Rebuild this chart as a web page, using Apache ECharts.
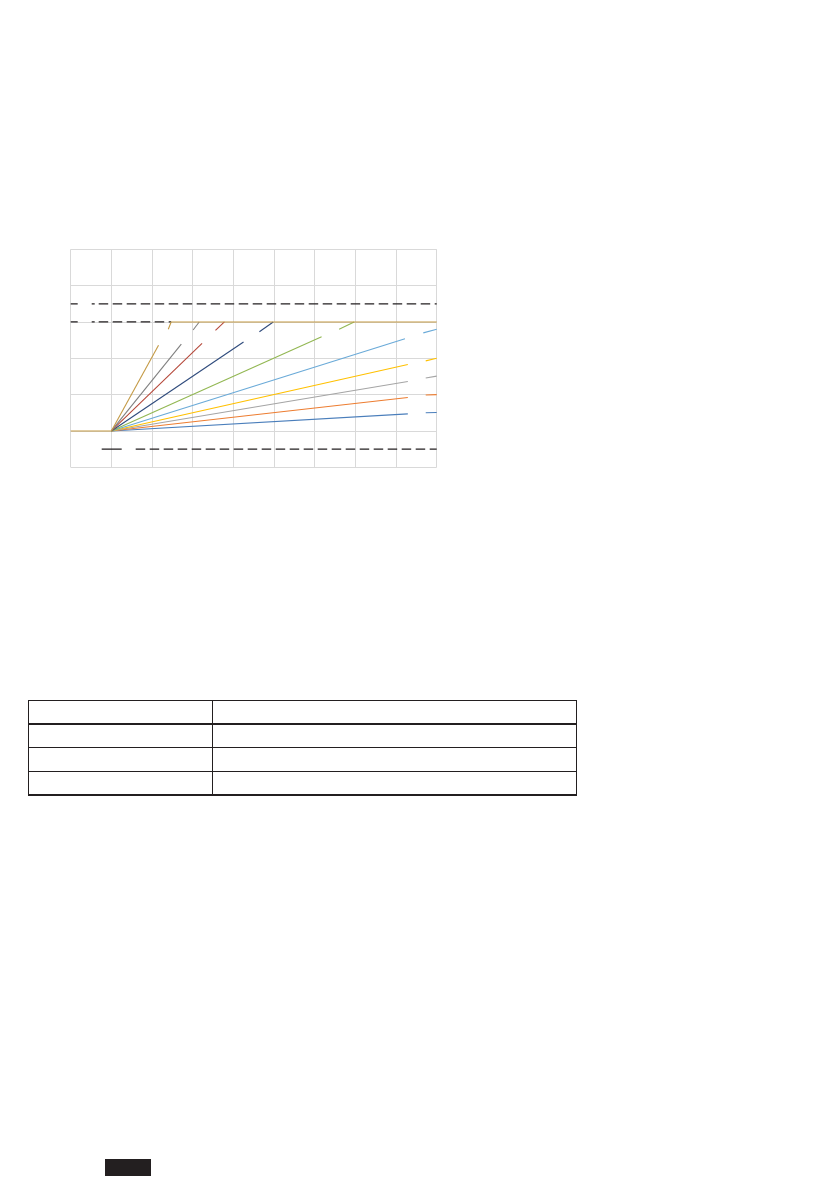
<!DOCTYPE html>
<html>
<head>
<meta charset="utf-8">
<script src="https://cdn.jsdelivr.net/npm/echarts@6/dist/echarts.min.js"></script>
<style>
html,body{margin:0;padding:0;background:#fff;width:839px;height:1191px;overflow:hidden;}
#chart{position:absolute;left:0;top:0;width:839px;height:1191px;}
.ln{position:absolute;background:#231f20;}
#blk{position:absolute;left:105px;top:1159px;width:46px;height:17px;background:#231f20;}
</style>
</head>
<body>
<div id="chart"></div>
<div class="ln" style="left:28px;top:699.5px;width:549px;height:1.4px"></div>
<div class="ln" style="left:28px;top:723.2px;width:549px;height:1.4px"></div>
<div class="ln" style="left:28px;top:747px;width:549px;height:1.4px"></div>
<div class="ln" style="left:28px;top:770.7px;width:549px;height:1.4px"></div>
<div class="ln" style="left:28px;top:794.4px;width:549px;height:1.4px"></div>
<div class="ln" style="left:28px;top:699.5px;width:1.4px;height:96.3px"></div>
<div class="ln" style="left:211.5px;top:699.5px;width:1.4px;height:96.3px"></div>
<div class="ln" style="left:575.6px;top:699.5px;width:1.4px;height:96.3px"></div>
<div id="blk"></div>
<script>
// axis ranges / ticks
const xTicks = [0, 1, 2, 3, 4, 5, 6, 7, 8, 9];
const yTicks = [-1, 0, 1, 2, 3, 4, 5];

// curves (null = break in line)
const baseLine = [[0, 0], [1, 0]];
const curve1 = [[1, 0], [2.16, 2.36], null, [2.40, 2.80], [2.47, 3], [9, 3]];
const curve2 = [[1, 0], [2.72, 2.39], null, [3.01, 2.78], [3.16, 3]];
const curve3 = [[1, 0], [3.23, 2.41], null, [3.56, 2.77], [3.78, 3]];
const curve4 = [[1, 0], [4.25, 2.45], null, [4.64, 2.73], [4.98, 3]];
const curve5 = [[1, 0], [6.17, 2.59], null, [6.60, 2.80], [6.97, 3]];
const curve6 = [[1, 0], [8.22, 2.54], null, [8.67, 2.70], [9, 2.80]];
const curve7 = [[1, 0], [8.29, 1.83], null, [8.73, 1.93], [9, 2.0]];
const curve8 = [[1, 0], [8.29, 1.36], null, [8.73, 1.46], [9, 1.51]];
const curve9 = [[1, 0], [8.29, 0.92], null, [8.73, 0.99], [9, 1.0]];
const curve10 = [[1, 0], [8.29, 0.47], null, [8.73, 0.50], [9, 0.51]];

// dashed reference levels
const refUpper = [[0, 3.5], [9, 3.5]];
const refMid = [[0, 3], [2.47, 3]];
const refLower = [[0, -0.5], [9, -0.5]];

const curves = [
  {d: curve10, c: '#4A7EBB'},
  {d: curve9, c: '#ED7D31'},
  {d: curve8, c: '#A5A5A5'},
  {d: curve7, c: '#FFC000'},
  {d: curve6, c: '#6AAAD8'},
  {d: curve5, c: '#92B752'},
  {d: curve4, c: '#2F4B7C'},
  {d: curve3, c: '#B5483A'},
  {d: curve2, c: '#808080'},
  {d: curve1, c: '#C49A45'},
  {d: baseLine, c: '#C49A45'}
];

function splitSegs(pts) {
  const segs = []; let cur = [];
  pts.forEach(p => { if (p === null) { if (cur.length) segs.push(cur); cur = []; } else cur.push(p); });
  if (cur.length) segs.push(cur);
  return segs;
}

function repeatDash(head, unit, n) {
  const a = head.slice();
  for (let i = 0; i < n; i++) a.push(...unit);
  return a;
}
const dashTop = repeatDash([7, 14, 3, 4], [9.5, 4.5], 30);
const dashBottom = repeatDash([0, 31, 20, 14], [9.5, 4.5], 30);

const series = [];
curves.forEach(cv => {
  splitSegs(cv.d).forEach(seg => {
    series.push({type: 'line', data: seg, symbol: 'none', silent: true,
      lineStyle: {color: cv.c, width: 1.1}, z: 3});
  });
});
[[refUpper, dashTop], [refMid, dashTop], [refLower, dashBottom]].forEach(r => {
  series.push({type: 'line', data: r[0], symbol: 'none', silent: true,
    lineStyle: {color: '#231f20', width: 1.3, type: r[1]}, z: 2});
});

const chart = echarts.init(document.getElementById('chart'), null, {renderer: 'canvas'});
chart.setOption({
  animation: false,
  grid: {left: 70.7, top: 249.3, width: 366, height: 218, containLabel: false},
  xAxis: {type: 'value', min: xTicks[0], max: xTicks[xTicks.length - 1], interval: 1,
    axisLine: {show: false}, axisTick: {show: false}, axisLabel: {show: false},
    splitLine: {show: true, lineStyle: {color: '#d9d9d9', width: 1}}},
  yAxis: {type: 'value', min: yTicks[0], max: yTicks[yTicks.length - 1], interval: 1,
    axisLine: {show: false}, axisTick: {show: false}, axisLabel: {show: false},
    splitLine: {show: true, lineStyle: {color: '#d9d9d9', width: 1}}},
  series: series
});
</script>
</body>
</html>
